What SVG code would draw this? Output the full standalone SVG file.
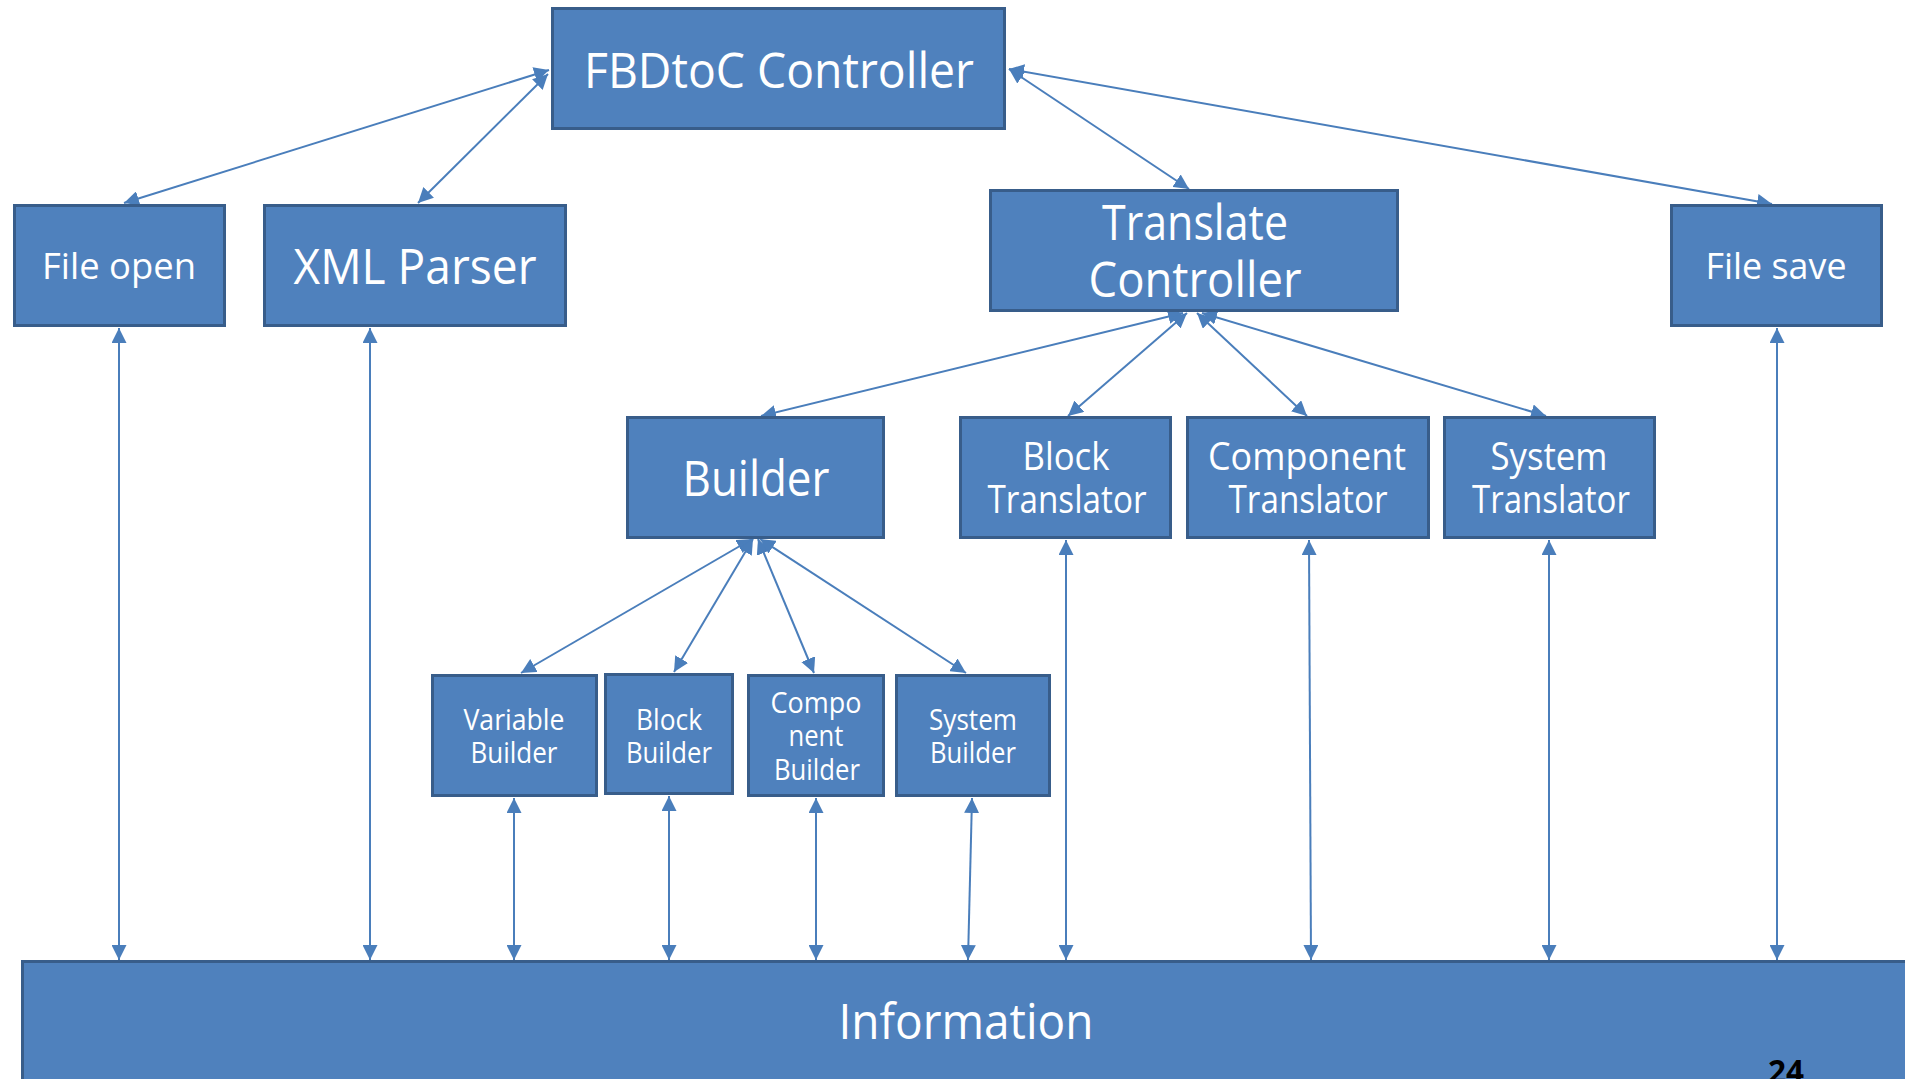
<svg xmlns="http://www.w3.org/2000/svg" width="1905" height="1079" viewBox="0 0 1905 1079">
  <style>
    .box { fill: #4F81BD; stroke: #385D8A; stroke-width: 3; }
    .lbl { fill: #FFFFFF; font-family: "Open Sans", "Noto Sans", "Liberation Sans", sans-serif; text-anchor: middle; }
    .xl { font-size: 49px; }
    .md { font-size: 38px; }
    .sm { font-size: 36px; }
    .xs { font-size: 29px; }
    .link { stroke: #4A7EBB; stroke-width: 2; fill: none; marker-start: url(#tip); marker-end: url(#tip); }
    .page { fill: #000000; font-family: "Open Sans", "Liberation Sans", sans-serif; font-weight: bold; font-size: 33px; }
  </style>
  <defs>
    <marker id="tip" markerUnits="userSpaceOnUse" markerWidth="15" markerHeight="15" refX="15" refY="7.5" orient="auto-start-reverse">
      <path d="M0,0 L15,7.5 L0,15 z" fill="#4A7EBB"/>
    </marker>
  </defs>

  <rect width="1905" height="1079" fill="#FFFFFF"/>

  <!-- bidirectional links -->
  <g id="connectors">
    <line class="link" x1="549" y1="70" x2="124" y2="203"/>
    <line class="link" x1="548" y1="74" x2="418" y2="203"/>
    <line class="link" x1="1009" y1="69" x2="1189" y2="189"/>
    <line class="link" x1="1009" y1="69" x2="1772" y2="204"/>
    <line class="link" x1="1183" y1="313" x2="761" y2="416"/>
    <line class="link" x1="1187" y1="313" x2="1068" y2="416"/>
    <line class="link" x1="1197" y1="313" x2="1307" y2="416"/>
    <line class="link" x1="1202" y1="313" x2="1546" y2="416"/>
    <line class="link" x1="752" y1="539" x2="521" y2="673"/>
    <line class="link" x1="753" y1="539" x2="674" y2="672"/>
    <line class="link" x1="758" y1="539" x2="814" y2="673"/>
    <line class="link" x1="760" y1="539" x2="966" y2="673"/>
    <line class="link" x1="119" y1="328" x2="119" y2="960"/>
    <line class="link" x1="370" y1="328" x2="370" y2="960"/>
    <line class="link" x1="514" y1="798" x2="514" y2="960"/>
    <line class="link" x1="669" y1="796" x2="669" y2="960"/>
    <line class="link" x1="816" y1="798" x2="816" y2="960"/>
    <line class="link" x1="972" y1="798" x2="968" y2="960"/>
    <line class="link" x1="1066" y1="540" x2="1066" y2="960"/>
    <line class="link" x1="1309" y1="540" x2="1311" y2="960"/>
    <line class="link" x1="1549" y1="540" x2="1549" y2="960"/>
    <line class="link" x1="1777" y1="328" x2="1777" y2="960"/>
  </g>

  <g id="fbdtoc-controller">
    <rect class="box" x="552.5" y="8.5" width="452" height="120"/>
    <text class="lbl xl" x="779" y="88" textLength="390" lengthAdjust="spacingAndGlyphs">FBDtoC Controller</text>
  </g>

  <g id="file-open">
    <rect class="box" x="14.5" y="205.5" width="210" height="120"/>
    <text class="lbl sm" x="119" y="279" textLength="154" lengthAdjust="spacingAndGlyphs">File open</text>
  </g>

  <g id="xml-parser">
    <rect class="box" x="264.5" y="205.5" width="301" height="120"/>
    <text class="lbl xl" x="415" y="284" textLength="243" lengthAdjust="spacingAndGlyphs">XML Parser</text>
  </g>

  <g id="translate-controller">
    <rect class="box" x="990.5" y="190.5" width="407" height="120"/>
    <text class="lbl xl" x="1195" y="240" textLength="186" lengthAdjust="spacingAndGlyphs">Translate</text>
    <text class="lbl xl" x="1195" y="297" textLength="213" lengthAdjust="spacingAndGlyphs">Controller</text>
  </g>

  <g id="file-save">
    <rect class="box" x="1671.5" y="205.5" width="210" height="120"/>
    <text class="lbl sm" x="1776" y="279" textLength="141" lengthAdjust="spacingAndGlyphs">File save</text>
  </g>

  <g id="builder">
    <rect class="box" x="627.5" y="417.5" width="256" height="120"/>
    <text class="lbl xl" x="756" y="496" textLength="147" lengthAdjust="spacingAndGlyphs">Builder</text>
  </g>

  <g id="block-translator">
    <rect class="box" x="960.5" y="417.5" width="210" height="120"/>
    <text class="lbl md" x="1066" y="470" textLength="87" lengthAdjust="spacingAndGlyphs">Block</text>
    <text class="lbl md" x="1067" y="513" textLength="159" lengthAdjust="spacingAndGlyphs">Translator</text>
  </g>

  <g id="component-translator">
    <rect class="box" x="1187.5" y="417.5" width="241" height="120"/>
    <text class="lbl md" x="1307" y="470" textLength="198" lengthAdjust="spacingAndGlyphs">Component</text>
    <text class="lbl md" x="1308" y="513" textLength="159" lengthAdjust="spacingAndGlyphs">Translator</text>
  </g>

  <g id="system-translator">
    <rect class="box" x="1444.5" y="417.5" width="210" height="120"/>
    <text class="lbl md" x="1549" y="470" textLength="117" lengthAdjust="spacingAndGlyphs">System</text>
    <text class="lbl md" x="1551" y="513" textLength="158" lengthAdjust="spacingAndGlyphs">Translator</text>
  </g>

  <g id="variable-builder">
    <rect class="box" x="432.5" y="675.5" width="164" height="120"/>
    <text class="lbl xs" x="514" y="730" textLength="101" lengthAdjust="spacingAndGlyphs">Variable</text>
    <text class="lbl xs" x="514" y="763" textLength="87" lengthAdjust="spacingAndGlyphs">Builder</text>
  </g>

  <g id="block-builder">
    <rect class="box" x="605.5" y="674.5" width="127" height="119"/>
    <text class="lbl xs" x="669" y="730" textLength="66" lengthAdjust="spacingAndGlyphs">Block</text>
    <text class="lbl xs" x="669" y="763" textLength="86" lengthAdjust="spacingAndGlyphs">Builder</text>
  </g>

  <g id="component-builder">
    <rect class="box" x="748.5" y="675.5" width="135" height="120"/>
    <text class="lbl xs" x="816" y="713" textLength="91" lengthAdjust="spacingAndGlyphs">Compo</text>
    <text class="lbl xs" x="816" y="746" textLength="55" lengthAdjust="spacingAndGlyphs">nent</text>
    <text class="lbl xs" x="817" y="780" textLength="86" lengthAdjust="spacingAndGlyphs">Builder</text>
  </g>

  <g id="system-builder">
    <rect class="box" x="896.5" y="675.5" width="153" height="120"/>
    <text class="lbl xs" x="973" y="730" textLength="88" lengthAdjust="spacingAndGlyphs">System</text>
    <text class="lbl xs" x="973" y="763" textLength="86" lengthAdjust="spacingAndGlyphs">Builder</text>
  </g>

  <g id="information">
    <rect class="box" x="22.5" y="961.5" width="1900" height="200"/>
    <text class="lbl xl" x="966" y="1039" textLength="255" lengthAdjust="spacingAndGlyphs">Information</text>
  </g>

  <text class="page" x="1768" y="1083" textLength="36" lengthAdjust="spacingAndGlyphs">24</text>
</svg>
